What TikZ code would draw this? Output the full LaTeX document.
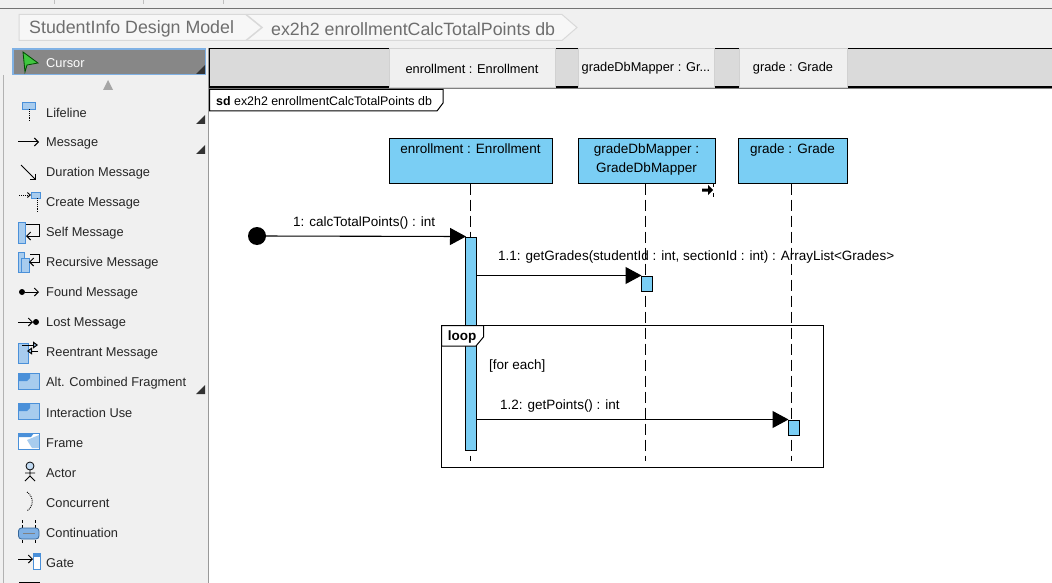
\documentclass[tikz,border=0pt]{standalone}
\usepackage{fontspec}
\setmainfont{Liberation Sans}
\usetikzlibrary{arrows.meta}
\definecolor{panelGray}{HTML}{F0F0F0}
\definecolor{bandGray}{HTML}{DADADA}
\definecolor{crumbText}{HTML}{6E6E6E}
\definecolor{lifeBlue}{HTML}{7ACEF4}
\definecolor{iconEdge}{HTML}{4A90D9}
\definecolor{iconFill}{HTML}{A8CCEE}
\tikzset{
  lifebox/.style={draw=black,fill=lifeBlue,line width=1pt,inner sep=0pt},
  lifetext/.style={anchor=north,inner sep=0pt,align=center,font=\fontsize{13.5}{19}\selectfont},
  lifeline/.style={line width=1.1pt,dash pattern=on 11pt off 5pt},
  activation/.style={draw=black,fill=lifeBlue,line width=1pt,inner sep=0pt,minimum width=11pt},
  message/.style={line width=1.1pt,-{Triangle[length=16pt,width=17pt]},shorten >=-1pt},
  msgtext/.style={inner sep=0pt,anchor=west,font=\fontsize{13.5}{16}\selectfont},
  headtab/.style={draw=black!18,fill=panelGray,line width=1pt,inner sep=0pt,minimum height=39pt,font=\fontsize{12.8}{15}\selectfont},
  palette/.style={anchor=west,inner sep=0pt,font=\fontsize{12.8}{15}\selectfont,text=black!85},
  crumb/.style={anchor=west,inner sep=0pt,text=crumbText,font=\fontsize{17.8}{20}\selectfont},
  icon/.style={draw=iconEdge,fill=iconFill,line width=.8pt},
  iconline/.style={line width=1pt,-{Straight Barb[length=4pt,width=8pt]}},
  corner/.style={fill=black!80}
}
\begin{document}
\begin{tikzpicture}[x=1pt,y=-1pt]
    \useasboundingbox (0,0) rectangle (1052,583);
    \fill[white] (0,0) rectangle (1052,583);

    % window chrome
    \fill[panelGray] (0,0) rectangle (1052,48);
    \draw[black!55,line width=1pt] (0,8.5) -- (1052,8.5);
    \foreach \tx in {54,143,223} \draw[black!25] (\tx,0) -- (\tx,4);

    % breadcrumb
    \fill[black!3] (19,14.5) -- (562,14.5) -- (577,27.5) -- (562,40.5) -- (19,40.5) -- cycle;
    \draw[black!15,line width=1pt] (19,14.5) -- (562,14.5) -- (577,27.5) -- (562,40.5) -- (19,40.5) -- cycle;
    \draw[black!15,line width=1.5pt] (246,14.5) -- (262,27.5) -- (246,40.5);
    \node[crumb] (crumbModel) at (29,29) {StudentInfo Design Model};
    \node[crumb] (crumbDiagram) at (271,29) {ex2h2 enrollmentCalcTotalPoints db};

    % palette
    \fill[panelGray] (0,48) rectangle (208,583);
    \draw[black!40,line width=1pt] (208.5,48) -- (208.5,583);
    \draw[black!30,line width=1pt] (3,75) -- (3,583);
    \draw[iconEdge!70,fill=black!47,line width=1.4pt] (13,49) rectangle (205.5,74.5);
    \fill[corner] (205,65) -- (205,74) -- (196,74) -- cycle;
    \draw[black!70!green,fill=green!70!black!75,line width=.8pt] (23,52) -- (38,63) -- (27,65) -- (25,72) -- cycle;
    \node[palette,text=white] (palCursor) at (46,63) {Cursor};
    \fill[black!35] (108,80) -- (113,90) -- (103,90) -- cycle;
    \foreach \y/\name [count=\i] in {113/Lifeline,143/Message,173/Duration Message,203/Create Message,
        233/Self Message,263/Recursive Message,293/Found Message,323/Lost Message,353/Reentrant Message,
        383/Alt. Combined Fragment,413/Interaction Use,443/Frame,473/Actor,503/Concurrent,533/Continuation,563/Gate}
        \node[palette] (pal\i) at (46,\y) {\name};
    \foreach \y in {115,145,385} \fill[corner] (205,\y) -- (205,\y+9) -- (196,\y+9) -- cycle;

    % palette icons
    \draw[icon] (22,102) rectangle (35,109);
    \draw[densely dotted,line width=.9pt] (29.5,109) -- (29.5,121);
    \draw[iconline] (18,142) -- (39,142);
    \draw[iconline] (21,165) -- (36,180);
    \draw[densely dotted,line width=.9pt,-{Straight Barb[length=3pt,width=5pt]}] (19,195) -- (31,195);
    \draw[icon] (31,192) rectangle (40,198);
    \draw[densely dotted,line width=.9pt] (37,198) -- (37,212);
    \draw[icon] (18,222) rectangle (25,243);
    \draw[iconline] (26,224) -- (39,224) -- (39,236) -- (26,236);
    \draw[icon] (18,252) rectangle (24,272);
    \draw[icon] (21,258) rectangle (29,272);
    \draw[iconline] (30,254) -- (39,254) -- (39,262) -- (29,262);
    \fill (22,292) circle (3);
    \draw[iconline] (25,292) -- (39,292);
    \draw[iconline] (18,322) -- (33,322);
    \fill (36,322) circle (3);
    \draw[icon] (18,343) rectangle (28,363);
    \draw[line width=1pt,-{Triangle[length=5pt,width=7pt,fill=iconFill]}] (22,345) -- (38,345);
    \draw[line width=1pt,-{Triangle[length=5pt,width=7pt,fill=iconFill]}] (38,351) -- (27,351);
    \draw[icon] (18.5,373) rectangle (39,389);
    \fill[iconEdge] (19,373) -- (30,373) -- (30,378) -- (27,381) -- (19,381) -- cycle;
    \draw[icon] (18.5,403) rectangle (39,419);
    \fill[iconEdge] (19,403) -- (30,403) -- (30,408) -- (27,411) -- (19,411) -- cycle;
    \draw[icon,fill=white] (18.5,433) rectangle (39.5,449);
    \fill[iconFill] (27,440) -- (39,435) -- (39,448) -- (32,448) -- cycle;
    \fill[iconEdge] (19,433) -- (34,433) -- (31,437) -- (19,437) -- cycle;
    \draw[black,fill=iconFill!70,line width=.8pt] (30,466) circle (4);
    \draw[line width=.9pt] (30,470) -- (30,476) (25,473) -- (35,473) (25,481) -- (30,476) -- (35,481);
    \draw[densely dotted,line width=.9pt] (27,492) .. controls (34,497) and (34,506) .. (27,511);
    \draw[densely dashed,line width=.9pt] (22,520) -- (22,543) (35,520) -- (35,543);
    \draw[draw=iconEdge!70!black,fill=iconEdge!70,rounded corners=3pt,line width=.8pt] (18.5,528) rectangle (39,539);
    \draw[black!50,line width=1pt] (23,533) -- (35,533);
    \draw[iconline] (18,559) -- (33,559);
    \draw[icon,fill=white] (33.5,553) rectangle (40,569);
    \fill[iconEdge] (33.5,553) rectangle (40,557);
    \fill (19,582) rectangle (40,583);

    % header band
    \fill[bandGray] (209,49) rectangle (1052,87);
    \draw[black,line width=1pt] (209,48.5) -- (1052,48.5);
    \draw[black,line width=1.5pt] (209,87) -- (1052,87);
    \draw[black,line width=1pt] (209,48.5) -- (209,87);
    \draw[black!50,line width=1pt] (209,88.5) -- (1052,88.5);
    \node[headtab,minimum width=166pt] (tabEnrollment) at (472,68.5) {enrollment : Enrollment};
    \node[headtab,minimum width=136pt] (tabMapper) at (646,68.5) {gradeDbMapper : Gr...};
    \node[headtab,minimum width=108pt] (tabGrade) at (793,68.5) {grade : Grade};

    % frame title
    \draw[black,fill=white,line width=1pt] (209.5,89.5) -- (443,89.5) -- (443,103) -- (437,111) -- (209.5,111) -- cycle;
    \node[anchor=west,inner sep=0pt,font=\fontsize{12.4}{15}\selectfont] (sdTitle) at (216,101) {\textbf{sd} ex2h2 enrollmentCalcTotalPoints db};

    % lifeline heads
    \node[lifebox,minimum width=163pt,minimum height=44pt] (enrollment) at (470.5,161) {};
    \node[lifebox,minimum width=137pt,minimum height=44pt] (gradeDbMapper) at (646.5,161) {};
    \node[lifebox,minimum width=109pt,minimum height=44pt] (grade) at (792.5,161) {};
    \node[lifetext,yshift=-5pt] (enrollmentText) at (enrollment.north) {enrollment : Enrollment};
    \node[lifetext,yshift=-5pt] (gradeDbMapperText) at (gradeDbMapper.north) {gradeDbMapper :\\GradeDbMapper};
    \node[lifetext,yshift=-5pt] (gradeText) at (grade.north) {grade : Grade};

    % lifelines
    \coordinate (enrollmentEnd) at (470.5,461);
    \coordinate (gradeDbMapperEnd) at (645.5,461);
    \coordinate (gradeEnd) at (791.5,461);
    \draw[lifeline] (enrollment.south) -- (enrollmentEnd);
    \draw[lifeline] (gradeDbMapper.south -| gradeDbMapperEnd) -- (gradeDbMapperEnd);
    \draw[lifeline] (grade.south -| gradeEnd) -- (gradeEnd);

    % activations
    \node[activation,minimum height=213pt] (enrollmentBar) at (471,343.5) {};
    \node[activation,minimum height=15pt] (gradeDbMapperBar) at (646.5,283.5) {};
    \node[activation,minimum height=15pt] (gradeBar) at (793.5,427.5) {};

    % loop fragment
    \draw[black,line width=1pt] (441.5,325.5) rectangle (823.5,467);
    \draw[black,fill=white,line width=1pt] (441.5,325.5) -- (483.5,325.5) -- (483.5,337) -- (476,346) -- (441.5,346) -- cycle;
    \node[inner sep=0pt,font=\bfseries\fontsize{13.5}{16}\selectfont] (loopTag) at (462,337) {loop};
    \node[msgtext] (loopGuard) at (489,366) {[for each]};

    % messages
    \node[circle,fill=black,inner sep=0pt,minimum size=18pt] (foundDot) at (257,236) {};
    \draw[message] (foundDot) -- (enrollmentBar.north west);
    \coordinate (getGradesFrom) at (enrollmentBar.east |- gradeDbMapperBar.north);
    \draw[message] (getGradesFrom) -- (gradeDbMapperBar.north west);
    \coordinate (getPointsFrom) at (enrollmentBar.east |- gradeBar.north);
    \draw[message] (getPointsFrom) -- (gradeBar.north west);
    \node[msgtext] (calcLabel) at (293,223) {1: calcTotalPoints() : int};
    \node[msgtext] (getGradesLabel) at (498,257) {1.1: getGrades(studentId : int, sectionId : int) : ArrayList<Grades>};
    \node[msgtext] (getPointsLabel) at (500,406) {1.2: getPoints() : int};

    % mouse pointer
    \fill (702,188.5) -- (708,188.5) -- (708,185) -- (713,190) -- (708,195) -- (708,191.5) -- (702,191.5) -- cycle;
    \draw[line width=1pt] (713.5,184) -- (713.5,187) (713.5,193) -- (713.5,197);
\end{tikzpicture}
\end{document}
